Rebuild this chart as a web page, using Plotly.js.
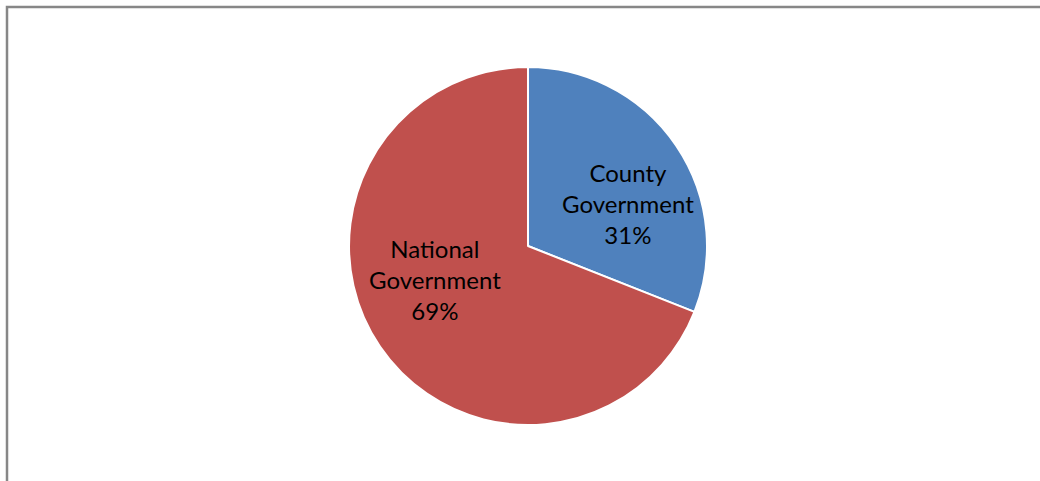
<!DOCTYPE html>
<html>
<head>
<meta charset="utf-8">
<script src="https://cdn.plot.ly/plotly-3.0.1.min.js"></script>
<style>html,body{margin:0;padding:0;background:#fff;}#chart{width:1040px;height:481px;}</style>
</head>
<body>
<div id="chart"></div>
<script>
const labels = ["County<br>Government", "National<br>Government"];
const values = [31, 69];
const colors = ["#4F81BD", "#C0504D"];
// label anchor positions (paper fractions) as in the original layout
const labelPos = [[0.6038, 0.5759], [0.4183, 0.4179]];

const total = values.reduce((a, b) => a + b, 0);

const trace = {
  type: "pie",
  labels: labels,
  values: values,
  sort: false,
  direction: "clockwise",
  rotation: 0,
  marker: {colors: colors, line: {color: "#ffffff", width: 2}},
  textinfo: "none",
  hoverinfo: "none",
  showlegend: false,
  domain: {x: [0.3356, 0.6798], y: [0.1164, 0.8607]}
};

const annotations = labels.map((lab, i) => ({
  xref: "paper", yref: "paper",
  x: labelPos[i][0], y: labelPos[i][1],
  xanchor: "center", yanchor: "middle",
  text: lab + "<br>" + Math.round(values[i] / total * 100) + "%",
  showarrow: false,
  align: "center",
  font: {family: "Lato, 'Open Sans', sans-serif", size: 24, color: "#000000"}
}));

const layout = {
  width: 1040, height: 481,
  margin: {l: 0, r: 0, t: 0, b: 0},
  paper_bgcolor: "#ffffff",
  showlegend: false,
  annotations: annotations,
  shapes: [{
    type: "rect", xref: "paper", yref: "paper",
    x0: 7/1040, x1: 1.05, y0: -0.05, y1: 1 - 7/481,
    line: {color: "#878787", width: 2.5}, fillcolor: "rgba(0,0,0,0)"
  }]
};

Plotly.newPlot("chart", [trace], layout, {displayModeBar: false, staticPlot: true});
</script>
</body>
</html>
